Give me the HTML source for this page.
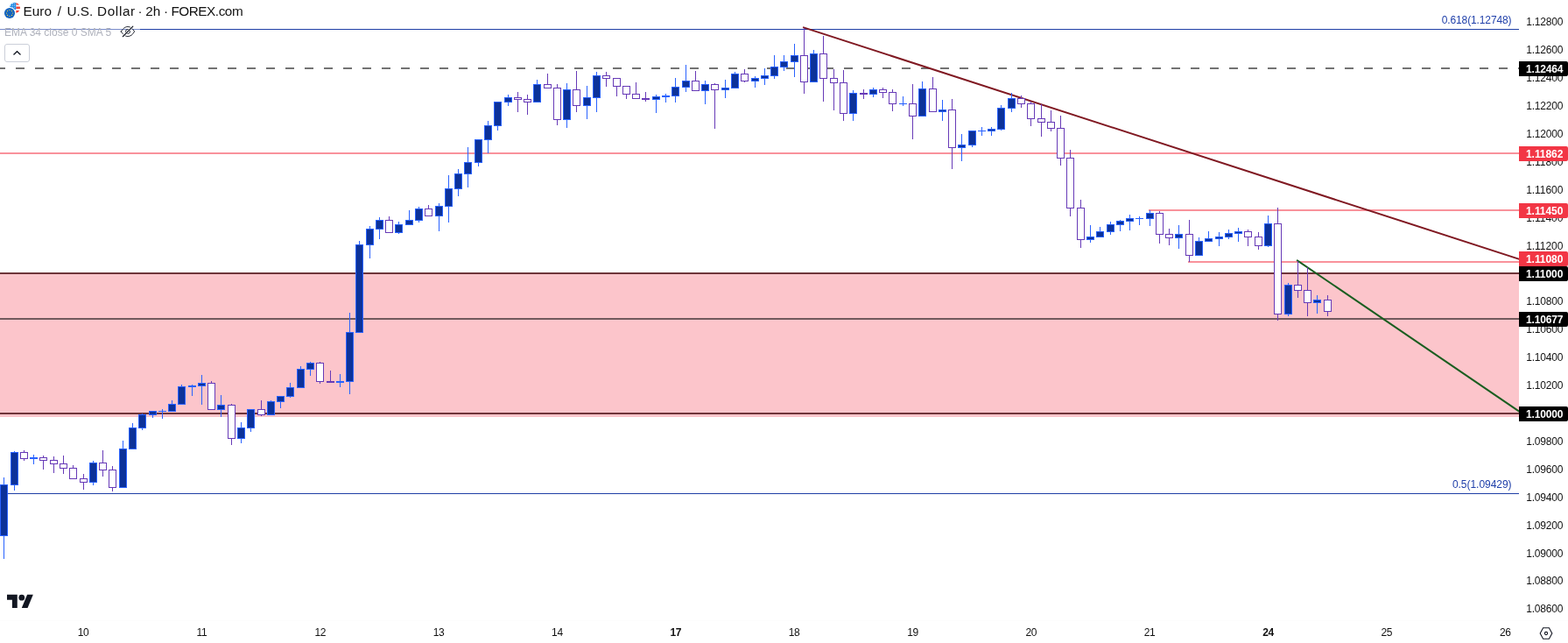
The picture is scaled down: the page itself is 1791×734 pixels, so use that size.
<!DOCTYPE html>
<html lang="en"><head><meta charset="utf-8">
<title>Euro / U.S. Dollar · 2h · FOREX.com</title>
<style>
html,body{margin:0;padding:0;background:#fff;}
body{width:1791px;height:734px;overflow:hidden;position:relative;font-family:"Liberation Sans", Arial, sans-serif;color:#111111;}
svg{position:absolute;left:0;top:0;display:block;}
svg text{font-family:"Liberation Sans", Arial, sans-serif;}
.ax{font-size:12px;fill:#111111;}
.lb{font-size:12px;fill:#fff;font-weight:bold;}
.fib{font-size:12px;fill:#2141aa;}
.tm{font-size:12px;fill:#111111;text-anchor:middle;}
.ttl{font-size:15.3px;fill:#111111;}
.leg{font-size:12px;fill:#afb2bc;}
</style></head><body>
<svg width="1791" height="734" viewBox="0 0 1791 734">
<g shape-rendering="crispEdges">
<rect x="0" y="313" width="1735" height="163" fill="#fcc5cb"/>
<rect x="0" y="33" width="1735" height="1" fill="#1f3fa6"/>
<rect x="0" y="563" width="1735" height="1" fill="#1f3fa6"/>
<line x1="-4" y1="78" x2="1735" y2="78" stroke="#737373" stroke-width="2" stroke-dasharray="10 12"/>
<rect x="0" y="174" width="1735" height="2" fill="#f9929b"/>
<rect x="1312" y="239" width="423" height="2" fill="#f9929b"/>
<rect x="1357" y="298" width="378" height="2" fill="#f9929b"/>
<rect x="0" y="311" width="1735" height="2" fill="#6e353a"/>
<rect x="0" y="471" width="1735" height="2" fill="#6e353a"/>
<rect x="0" y="363" width="1735" height="2" fill="#71595c"/>
</g>
<g stroke-width="2" stroke-linecap="round" fill="none">
<line x1="917.9" y1="31.4" x2="1737" y2="296.35" stroke="#801922"/>
<line x1="1481.8" y1="297.3" x2="1737" y2="470.95" stroke="#1b5e20"/>
</g>
<g shape-rendering="crispEdges">
<rect x="4" y="545" width="1" height="93" fill="#2962ff"/>
<rect x="0" y="553" width="9" height="59" fill="#2962ff"/>
<rect x="1" y="554" width="7" height="57" fill="#0c3299"/>
<rect x="16" y="515" width="1" height="45" fill="#2962ff"/>
<rect x="12" y="516" width="9" height="38" fill="#2962ff"/>
<rect x="13" y="517" width="7" height="36" fill="#0c3299"/>
<rect x="27" y="514" width="1" height="12" fill="#673ab7"/>
<rect x="23" y="516" width="9" height="8" fill="#673ab7"/>
<rect x="24" y="517" width="7" height="6" fill="#ffffff"/>
<rect x="38" y="519" width="1" height="11" fill="#2962ff"/>
<rect x="34" y="522" width="9" height="2" fill="#2962ff"/>
<rect x="49" y="520" width="1" height="16" fill="#673ab7"/>
<rect x="45" y="522" width="9" height="4" fill="#673ab7"/>
<rect x="46" y="523" width="7" height="2" fill="#ffffff"/>
<rect x="61" y="521" width="1" height="19" fill="#673ab7"/>
<rect x="57" y="525" width="9" height="5" fill="#673ab7"/>
<rect x="58" y="526" width="7" height="3" fill="#ffffff"/>
<rect x="72" y="520" width="1" height="21" fill="#673ab7"/>
<rect x="68" y="529" width="9" height="6" fill="#673ab7"/>
<rect x="69" y="530" width="7" height="4" fill="#ffffff"/>
<rect x="83" y="531" width="1" height="16" fill="#673ab7"/>
<rect x="79" y="534" width="9" height="13" fill="#673ab7"/>
<rect x="80" y="535" width="7" height="11" fill="#ffffff"/>
<rect x="95" y="541" width="1" height="18" fill="#673ab7"/>
<rect x="91" y="546" width="9" height="5" fill="#673ab7"/>
<rect x="92" y="547" width="7" height="3" fill="#ffffff"/>
<rect x="106" y="526" width="1" height="28" fill="#2962ff"/>
<rect x="102" y="528" width="9" height="23" fill="#2962ff"/>
<rect x="103" y="529" width="7" height="21" fill="#0c3299"/>
<rect x="117" y="514" width="1" height="30" fill="#673ab7"/>
<rect x="113" y="528" width="9" height="9" fill="#673ab7"/>
<rect x="114" y="529" width="7" height="7" fill="#ffffff"/>
<rect x="128" y="532" width="1" height="29" fill="#673ab7"/>
<rect x="124" y="536" width="9" height="21" fill="#673ab7"/>
<rect x="125" y="537" width="7" height="19" fill="#ffffff"/>
<rect x="140" y="503" width="1" height="54" fill="#2962ff"/>
<rect x="136" y="512" width="9" height="45" fill="#2962ff"/>
<rect x="137" y="513" width="7" height="43" fill="#0c3299"/>
<rect x="151" y="483" width="1" height="30" fill="#2962ff"/>
<rect x="147" y="488" width="9" height="25" fill="#2962ff"/>
<rect x="148" y="489" width="7" height="23" fill="#0c3299"/>
<rect x="162" y="472" width="1" height="19" fill="#2962ff"/>
<rect x="158" y="473" width="9" height="16" fill="#2962ff"/>
<rect x="159" y="474" width="7" height="14" fill="#0c3299"/>
<rect x="174" y="469" width="1" height="8" fill="#2962ff"/>
<rect x="170" y="469" width="9" height="5" fill="#2962ff"/>
<rect x="171" y="470" width="7" height="3" fill="#0c3299"/>
<rect x="185" y="467" width="1" height="11" fill="#2962ff"/>
<rect x="181" y="469" width="9" height="1" fill="#2962ff"/>
<rect x="196" y="457" width="1" height="13" fill="#2962ff"/>
<rect x="192" y="461" width="9" height="9" fill="#2962ff"/>
<rect x="193" y="462" width="7" height="7" fill="#0c3299"/>
<rect x="207" y="439" width="1" height="23" fill="#2962ff"/>
<rect x="203" y="441" width="9" height="21" fill="#2962ff"/>
<rect x="204" y="442" width="7" height="19" fill="#0c3299"/>
<rect x="219" y="439" width="1" height="13" fill="#2962ff"/>
<rect x="215" y="440" width="9" height="2" fill="#2962ff"/>
<rect x="230" y="428" width="1" height="34" fill="#2962ff"/>
<rect x="226" y="437" width="9" height="4" fill="#2962ff"/>
<rect x="227" y="438" width="7" height="2" fill="#0c3299"/>
<rect x="241" y="435" width="1" height="33" fill="#673ab7"/>
<rect x="237" y="437" width="9" height="31" fill="#673ab7"/>
<rect x="238" y="438" width="7" height="29" fill="#ffffff"/>
<rect x="252" y="451" width="1" height="25" fill="#2962ff"/>
<rect x="248" y="462" width="9" height="6" fill="#2962ff"/>
<rect x="249" y="463" width="7" height="4" fill="#0c3299"/>
<rect x="264" y="461" width="1" height="47" fill="#673ab7"/>
<rect x="260" y="462" width="9" height="39" fill="#673ab7"/>
<rect x="261" y="463" width="7" height="37" fill="#ffffff"/>
<rect x="275" y="482" width="1" height="24" fill="#2962ff"/>
<rect x="271" y="488" width="9" height="13" fill="#2962ff"/>
<rect x="272" y="489" width="7" height="11" fill="#0c3299"/>
<rect x="286" y="467" width="1" height="26" fill="#2962ff"/>
<rect x="282" y="467" width="9" height="22" fill="#2962ff"/>
<rect x="283" y="468" width="7" height="20" fill="#0c3299"/>
<rect x="298" y="457" width="1" height="18" fill="#673ab7"/>
<rect x="294" y="467" width="9" height="7" fill="#673ab7"/>
<rect x="295" y="468" width="7" height="5" fill="#ffffff"/>
<rect x="309" y="457" width="1" height="17" fill="#2962ff"/>
<rect x="305" y="458" width="9" height="16" fill="#2962ff"/>
<rect x="306" y="459" width="7" height="14" fill="#0c3299"/>
<rect x="320" y="452" width="1" height="14" fill="#2962ff"/>
<rect x="316" y="452" width="9" height="7" fill="#2962ff"/>
<rect x="317" y="453" width="7" height="5" fill="#0c3299"/>
<rect x="331" y="437" width="1" height="17" fill="#2962ff"/>
<rect x="327" y="442" width="9" height="11" fill="#2962ff"/>
<rect x="328" y="443" width="7" height="9" fill="#0c3299"/>
<rect x="343" y="418" width="1" height="25" fill="#2962ff"/>
<rect x="339" y="421" width="9" height="22" fill="#2962ff"/>
<rect x="340" y="422" width="7" height="20" fill="#0c3299"/>
<rect x="354" y="413" width="1" height="16" fill="#2962ff"/>
<rect x="350" y="414" width="9" height="8" fill="#2962ff"/>
<rect x="351" y="415" width="7" height="6" fill="#0c3299"/>
<rect x="365" y="413" width="1" height="25" fill="#673ab7"/>
<rect x="361" y="414" width="9" height="22" fill="#673ab7"/>
<rect x="362" y="415" width="7" height="20" fill="#ffffff"/>
<rect x="377" y="423" width="1" height="14" fill="#673ab7"/>
<rect x="373" y="435" width="9" height="2" fill="#673ab7"/>
<rect x="388" y="427" width="1" height="15" fill="#2962ff"/>
<rect x="384" y="435" width="9" height="2" fill="#2962ff"/>
<rect x="399" y="357" width="1" height="93" fill="#2962ff"/>
<rect x="395" y="379" width="9" height="57" fill="#2962ff"/>
<rect x="396" y="380" width="7" height="55" fill="#0c3299"/>
<rect x="410" y="275" width="1" height="105" fill="#2962ff"/>
<rect x="406" y="279" width="9" height="101" fill="#2962ff"/>
<rect x="407" y="280" width="7" height="99" fill="#0c3299"/>
<rect x="422" y="258" width="1" height="37" fill="#2962ff"/>
<rect x="418" y="261" width="9" height="19" fill="#2962ff"/>
<rect x="419" y="262" width="7" height="17" fill="#0c3299"/>
<rect x="433" y="248" width="1" height="25" fill="#2962ff"/>
<rect x="429" y="251" width="9" height="11" fill="#2962ff"/>
<rect x="430" y="252" width="7" height="9" fill="#0c3299"/>
<rect x="444" y="247" width="1" height="19" fill="#673ab7"/>
<rect x="440" y="251" width="9" height="15" fill="#673ab7"/>
<rect x="441" y="252" width="7" height="13" fill="#ffffff"/>
<rect x="455" y="253" width="1" height="14" fill="#2962ff"/>
<rect x="451" y="256" width="9" height="10" fill="#2962ff"/>
<rect x="452" y="257" width="7" height="8" fill="#0c3299"/>
<rect x="467" y="240" width="1" height="17" fill="#2962ff"/>
<rect x="463" y="251" width="9" height="6" fill="#2962ff"/>
<rect x="464" y="252" width="7" height="4" fill="#0c3299"/>
<rect x="478" y="236" width="1" height="18" fill="#2962ff"/>
<rect x="474" y="238" width="9" height="14" fill="#2962ff"/>
<rect x="475" y="239" width="7" height="12" fill="#0c3299"/>
<rect x="489" y="234" width="1" height="13" fill="#673ab7"/>
<rect x="485" y="238" width="9" height="9" fill="#673ab7"/>
<rect x="486" y="239" width="7" height="7" fill="#ffffff"/>
<rect x="501" y="232" width="1" height="32" fill="#2962ff"/>
<rect x="497" y="235" width="9" height="12" fill="#2962ff"/>
<rect x="498" y="236" width="7" height="10" fill="#0c3299"/>
<rect x="512" y="200" width="1" height="54" fill="#2962ff"/>
<rect x="508" y="215" width="9" height="21" fill="#2962ff"/>
<rect x="509" y="216" width="7" height="19" fill="#0c3299"/>
<rect x="523" y="193" width="1" height="31" fill="#2962ff"/>
<rect x="519" y="198" width="9" height="18" fill="#2962ff"/>
<rect x="520" y="199" width="7" height="16" fill="#0c3299"/>
<rect x="534" y="168" width="1" height="46" fill="#2962ff"/>
<rect x="530" y="185" width="9" height="14" fill="#2962ff"/>
<rect x="531" y="186" width="7" height="12" fill="#0c3299"/>
<rect x="546" y="159" width="1" height="31" fill="#2962ff"/>
<rect x="542" y="159" width="9" height="27" fill="#2962ff"/>
<rect x="543" y="160" width="7" height="25" fill="#0c3299"/>
<rect x="557" y="138" width="1" height="37" fill="#2962ff"/>
<rect x="553" y="143" width="9" height="17" fill="#2962ff"/>
<rect x="554" y="144" width="7" height="15" fill="#0c3299"/>
<rect x="568" y="116" width="1" height="33" fill="#2962ff"/>
<rect x="564" y="116" width="9" height="28" fill="#2962ff"/>
<rect x="565" y="117" width="7" height="26" fill="#0c3299"/>
<rect x="580" y="108" width="1" height="13" fill="#2962ff"/>
<rect x="576" y="111" width="9" height="6" fill="#2962ff"/>
<rect x="577" y="112" width="7" height="4" fill="#0c3299"/>
<rect x="591" y="105" width="1" height="23" fill="#673ab7"/>
<rect x="587" y="111" width="9" height="3" fill="#673ab7"/>
<rect x="588" y="112" width="7" height="1" fill="#ffffff"/>
<rect x="602" y="108" width="1" height="23" fill="#673ab7"/>
<rect x="598" y="113" width="9" height="4" fill="#673ab7"/>
<rect x="599" y="114" width="7" height="2" fill="#ffffff"/>
<rect x="613" y="91" width="1" height="26" fill="#2962ff"/>
<rect x="609" y="96" width="9" height="21" fill="#2962ff"/>
<rect x="610" y="97" width="7" height="19" fill="#0c3299"/>
<rect x="625" y="84" width="1" height="17" fill="#673ab7"/>
<rect x="621" y="96" width="9" height="5" fill="#673ab7"/>
<rect x="622" y="97" width="7" height="3" fill="#ffffff"/>
<rect x="636" y="96" width="1" height="47" fill="#673ab7"/>
<rect x="632" y="100" width="9" height="37" fill="#673ab7"/>
<rect x="633" y="101" width="7" height="35" fill="#ffffff"/>
<rect x="647" y="95" width="1" height="51" fill="#2962ff"/>
<rect x="643" y="102" width="9" height="35" fill="#2962ff"/>
<rect x="644" y="103" width="7" height="33" fill="#0c3299"/>
<rect x="658" y="81" width="1" height="47" fill="#673ab7"/>
<rect x="654" y="102" width="9" height="19" fill="#673ab7"/>
<rect x="655" y="103" width="7" height="17" fill="#ffffff"/>
<rect x="670" y="98" width="1" height="38" fill="#2962ff"/>
<rect x="666" y="111" width="9" height="10" fill="#2962ff"/>
<rect x="667" y="112" width="7" height="8" fill="#0c3299"/>
<rect x="681" y="82" width="1" height="46" fill="#2962ff"/>
<rect x="677" y="86" width="9" height="26" fill="#2962ff"/>
<rect x="678" y="87" width="7" height="24" fill="#0c3299"/>
<rect x="692" y="82" width="1" height="17" fill="#673ab7"/>
<rect x="688" y="86" width="9" height="4" fill="#673ab7"/>
<rect x="689" y="87" width="7" height="2" fill="#ffffff"/>
<rect x="704" y="89" width="1" height="21" fill="#673ab7"/>
<rect x="700" y="89" width="9" height="10" fill="#673ab7"/>
<rect x="701" y="90" width="7" height="8" fill="#ffffff"/>
<rect x="715" y="98" width="1" height="15" fill="#673ab7"/>
<rect x="711" y="98" width="9" height="10" fill="#673ab7"/>
<rect x="712" y="99" width="7" height="8" fill="#ffffff"/>
<rect x="726" y="94" width="1" height="19" fill="#673ab7"/>
<rect x="722" y="107" width="9" height="6" fill="#673ab7"/>
<rect x="723" y="108" width="7" height="4" fill="#ffffff"/>
<rect x="737" y="105" width="1" height="11" fill="#673ab7"/>
<rect x="733" y="112" width="9" height="2" fill="#673ab7"/>
<rect x="749" y="108" width="1" height="21" fill="#2962ff"/>
<rect x="745" y="110" width="9" height="4" fill="#2962ff"/>
<rect x="746" y="111" width="7" height="2" fill="#0c3299"/>
<rect x="760" y="107" width="1" height="10" fill="#2962ff"/>
<rect x="756" y="109" width="9" height="2" fill="#2962ff"/>
<rect x="771" y="89" width="1" height="28" fill="#2962ff"/>
<rect x="767" y="99" width="9" height="11" fill="#2962ff"/>
<rect x="768" y="100" width="7" height="9" fill="#0c3299"/>
<rect x="783" y="74" width="1" height="31" fill="#2962ff"/>
<rect x="779" y="92" width="9" height="8" fill="#2962ff"/>
<rect x="780" y="93" width="7" height="6" fill="#0c3299"/>
<rect x="794" y="81" width="1" height="23" fill="#673ab7"/>
<rect x="790" y="92" width="9" height="12" fill="#673ab7"/>
<rect x="791" y="93" width="7" height="10" fill="#ffffff"/>
<rect x="805" y="92" width="1" height="27" fill="#2962ff"/>
<rect x="801" y="96" width="9" height="8" fill="#2962ff"/>
<rect x="802" y="97" width="7" height="6" fill="#0c3299"/>
<rect x="816" y="95" width="1" height="52" fill="#673ab7"/>
<rect x="812" y="96" width="9" height="7" fill="#673ab7"/>
<rect x="813" y="97" width="7" height="5" fill="#ffffff"/>
<rect x="828" y="91" width="1" height="21" fill="#2962ff"/>
<rect x="824" y="100" width="9" height="3" fill="#2962ff"/>
<rect x="825" y="101" width="7" height="1" fill="#0c3299"/>
<rect x="839" y="82" width="1" height="19" fill="#2962ff"/>
<rect x="835" y="84" width="9" height="17" fill="#2962ff"/>
<rect x="836" y="85" width="7" height="15" fill="#0c3299"/>
<rect x="850" y="79" width="1" height="15" fill="#673ab7"/>
<rect x="846" y="84" width="9" height="9" fill="#673ab7"/>
<rect x="847" y="85" width="7" height="7" fill="#ffffff"/>
<rect x="862" y="87" width="1" height="13" fill="#2962ff"/>
<rect x="858" y="89" width="9" height="4" fill="#2962ff"/>
<rect x="859" y="90" width="7" height="2" fill="#0c3299"/>
<rect x="873" y="78" width="1" height="19" fill="#2962ff"/>
<rect x="869" y="86" width="9" height="4" fill="#2962ff"/>
<rect x="870" y="87" width="7" height="2" fill="#0c3299"/>
<rect x="884" y="63" width="1" height="27" fill="#2962ff"/>
<rect x="880" y="76" width="9" height="11" fill="#2962ff"/>
<rect x="881" y="77" width="7" height="9" fill="#0c3299"/>
<rect x="895" y="63" width="1" height="18" fill="#2962ff"/>
<rect x="891" y="70" width="9" height="7" fill="#2962ff"/>
<rect x="892" y="71" width="7" height="5" fill="#0c3299"/>
<rect x="907" y="50" width="1" height="38" fill="#2962ff"/>
<rect x="903" y="63" width="9" height="8" fill="#2962ff"/>
<rect x="904" y="64" width="7" height="6" fill="#0c3299"/>
<rect x="918" y="32" width="1" height="75" fill="#673ab7"/>
<rect x="914" y="63" width="9" height="31" fill="#673ab7"/>
<rect x="915" y="64" width="7" height="29" fill="#ffffff"/>
<rect x="929" y="57" width="1" height="37" fill="#2962ff"/>
<rect x="925" y="61" width="9" height="33" fill="#2962ff"/>
<rect x="926" y="62" width="7" height="31" fill="#0c3299"/>
<rect x="940" y="41" width="1" height="75" fill="#673ab7"/>
<rect x="936" y="61" width="9" height="29" fill="#673ab7"/>
<rect x="937" y="62" width="7" height="27" fill="#ffffff"/>
<rect x="952" y="79" width="1" height="47" fill="#673ab7"/>
<rect x="948" y="89" width="9" height="6" fill="#673ab7"/>
<rect x="949" y="90" width="7" height="4" fill="#ffffff"/>
<rect x="963" y="80" width="1" height="58" fill="#673ab7"/>
<rect x="959" y="94" width="9" height="36" fill="#673ab7"/>
<rect x="960" y="95" width="7" height="34" fill="#ffffff"/>
<rect x="974" y="103" width="1" height="35" fill="#2962ff"/>
<rect x="970" y="106" width="9" height="24" fill="#2962ff"/>
<rect x="971" y="107" width="7" height="22" fill="#0c3299"/>
<rect x="986" y="102" width="1" height="11" fill="#673ab7"/>
<rect x="982" y="106" width="9" height="2" fill="#673ab7"/>
<rect x="997" y="100" width="1" height="11" fill="#2962ff"/>
<rect x="993" y="102" width="9" height="6" fill="#2962ff"/>
<rect x="994" y="103" width="7" height="4" fill="#0c3299"/>
<rect x="1008" y="100" width="1" height="12" fill="#673ab7"/>
<rect x="1004" y="102" width="9" height="4" fill="#673ab7"/>
<rect x="1005" y="103" width="7" height="2" fill="#ffffff"/>
<rect x="1019" y="102" width="1" height="25" fill="#673ab7"/>
<rect x="1015" y="105" width="9" height="14" fill="#673ab7"/>
<rect x="1016" y="106" width="7" height="12" fill="#ffffff"/>
<rect x="1031" y="110" width="1" height="11" fill="#2962ff"/>
<rect x="1027" y="118" width="9" height="1" fill="#2962ff"/>
<rect x="1042" y="96" width="1" height="63" fill="#673ab7"/>
<rect x="1038" y="118" width="9" height="15" fill="#673ab7"/>
<rect x="1039" y="119" width="7" height="13" fill="#ffffff"/>
<rect x="1053" y="93" width="1" height="40" fill="#2962ff"/>
<rect x="1049" y="101" width="9" height="32" fill="#2962ff"/>
<rect x="1050" y="102" width="7" height="30" fill="#0c3299"/>
<rect x="1065" y="88" width="1" height="40" fill="#673ab7"/>
<rect x="1061" y="101" width="9" height="27" fill="#673ab7"/>
<rect x="1062" y="102" width="7" height="25" fill="#ffffff"/>
<rect x="1076" y="114" width="1" height="24" fill="#2962ff"/>
<rect x="1072" y="125" width="9" height="3" fill="#2962ff"/>
<rect x="1073" y="126" width="7" height="1" fill="#0c3299"/>
<rect x="1087" y="113" width="1" height="80" fill="#673ab7"/>
<rect x="1083" y="125" width="9" height="44" fill="#673ab7"/>
<rect x="1084" y="126" width="7" height="42" fill="#ffffff"/>
<rect x="1098" y="153" width="1" height="31" fill="#2962ff"/>
<rect x="1094" y="165" width="9" height="4" fill="#2962ff"/>
<rect x="1095" y="166" width="7" height="2" fill="#0c3299"/>
<rect x="1110" y="149" width="1" height="19" fill="#2962ff"/>
<rect x="1106" y="149" width="9" height="17" fill="#2962ff"/>
<rect x="1107" y="150" width="7" height="15" fill="#0c3299"/>
<rect x="1121" y="145" width="1" height="10" fill="#2962ff"/>
<rect x="1117" y="149" width="9" height="1" fill="#2962ff"/>
<rect x="1132" y="145" width="1" height="10" fill="#2962ff"/>
<rect x="1128" y="147" width="9" height="3" fill="#2962ff"/>
<rect x="1129" y="148" width="7" height="1" fill="#0c3299"/>
<rect x="1143" y="120" width="1" height="29" fill="#2962ff"/>
<rect x="1139" y="123" width="9" height="25" fill="#2962ff"/>
<rect x="1140" y="124" width="7" height="23" fill="#0c3299"/>
<rect x="1155" y="106" width="1" height="22" fill="#2962ff"/>
<rect x="1151" y="112" width="9" height="12" fill="#2962ff"/>
<rect x="1152" y="113" width="7" height="10" fill="#0c3299"/>
<rect x="1166" y="109" width="1" height="14" fill="#673ab7"/>
<rect x="1162" y="112" width="9" height="7" fill="#673ab7"/>
<rect x="1163" y="113" width="7" height="5" fill="#ffffff"/>
<rect x="1177" y="116" width="1" height="28" fill="#673ab7"/>
<rect x="1173" y="118" width="9" height="18" fill="#673ab7"/>
<rect x="1174" y="119" width="7" height="16" fill="#ffffff"/>
<rect x="1189" y="119" width="1" height="37" fill="#673ab7"/>
<rect x="1185" y="135" width="9" height="5" fill="#673ab7"/>
<rect x="1186" y="136" width="7" height="3" fill="#ffffff"/>
<rect x="1200" y="126" width="1" height="24" fill="#673ab7"/>
<rect x="1196" y="139" width="9" height="8" fill="#673ab7"/>
<rect x="1197" y="140" width="7" height="6" fill="#ffffff"/>
<rect x="1211" y="132" width="1" height="57" fill="#673ab7"/>
<rect x="1207" y="146" width="9" height="35" fill="#673ab7"/>
<rect x="1208" y="147" width="7" height="33" fill="#ffffff"/>
<rect x="1222" y="171" width="1" height="76" fill="#673ab7"/>
<rect x="1218" y="180" width="9" height="58" fill="#673ab7"/>
<rect x="1219" y="181" width="7" height="56" fill="#ffffff"/>
<rect x="1234" y="228" width="1" height="55" fill="#673ab7"/>
<rect x="1230" y="237" width="9" height="37" fill="#673ab7"/>
<rect x="1231" y="238" width="7" height="35" fill="#ffffff"/>
<rect x="1245" y="257" width="1" height="20" fill="#2962ff"/>
<rect x="1241" y="270" width="9" height="4" fill="#2962ff"/>
<rect x="1242" y="271" width="7" height="2" fill="#0c3299"/>
<rect x="1256" y="259" width="1" height="12" fill="#2962ff"/>
<rect x="1252" y="264" width="9" height="7" fill="#2962ff"/>
<rect x="1253" y="265" width="7" height="5" fill="#0c3299"/>
<rect x="1268" y="253" width="1" height="15" fill="#2962ff"/>
<rect x="1264" y="256" width="9" height="9" fill="#2962ff"/>
<rect x="1265" y="257" width="7" height="7" fill="#0c3299"/>
<rect x="1279" y="251" width="1" height="13" fill="#2962ff"/>
<rect x="1275" y="252" width="9" height="5" fill="#2962ff"/>
<rect x="1276" y="253" width="7" height="3" fill="#0c3299"/>
<rect x="1290" y="245" width="1" height="18" fill="#2962ff"/>
<rect x="1286" y="249" width="9" height="4" fill="#2962ff"/>
<rect x="1287" y="250" width="7" height="2" fill="#0c3299"/>
<rect x="1301" y="247" width="1" height="10" fill="#2962ff"/>
<rect x="1297" y="249" width="9" height="1" fill="#2962ff"/>
<rect x="1313" y="240" width="1" height="18" fill="#2962ff"/>
<rect x="1309" y="243" width="9" height="7" fill="#2962ff"/>
<rect x="1310" y="244" width="7" height="5" fill="#0c3299"/>
<rect x="1324" y="241" width="1" height="37" fill="#673ab7"/>
<rect x="1320" y="243" width="9" height="25" fill="#673ab7"/>
<rect x="1321" y="244" width="7" height="23" fill="#ffffff"/>
<rect x="1335" y="261" width="1" height="19" fill="#673ab7"/>
<rect x="1331" y="267" width="9" height="5" fill="#673ab7"/>
<rect x="1332" y="268" width="7" height="3" fill="#ffffff"/>
<rect x="1346" y="257" width="1" height="27" fill="#2962ff"/>
<rect x="1342" y="267" width="9" height="5" fill="#2962ff"/>
<rect x="1343" y="268" width="7" height="3" fill="#0c3299"/>
<rect x="1358" y="251" width="1" height="48" fill="#673ab7"/>
<rect x="1354" y="267" width="9" height="25" fill="#673ab7"/>
<rect x="1355" y="268" width="7" height="23" fill="#ffffff"/>
<rect x="1369" y="271" width="1" height="21" fill="#2962ff"/>
<rect x="1365" y="275" width="9" height="17" fill="#2962ff"/>
<rect x="1366" y="276" width="7" height="15" fill="#0c3299"/>
<rect x="1380" y="264" width="1" height="12" fill="#2962ff"/>
<rect x="1376" y="272" width="9" height="4" fill="#2962ff"/>
<rect x="1377" y="273" width="7" height="2" fill="#0c3299"/>
<rect x="1392" y="265" width="1" height="16" fill="#2962ff"/>
<rect x="1388" y="270" width="9" height="3" fill="#2962ff"/>
<rect x="1389" y="271" width="7" height="1" fill="#0c3299"/>
<rect x="1403" y="262" width="1" height="11" fill="#2962ff"/>
<rect x="1399" y="266" width="9" height="5" fill="#2962ff"/>
<rect x="1400" y="267" width="7" height="3" fill="#0c3299"/>
<rect x="1414" y="260" width="1" height="16" fill="#2962ff"/>
<rect x="1410" y="264" width="9" height="3" fill="#2962ff"/>
<rect x="1411" y="265" width="7" height="1" fill="#0c3299"/>
<rect x="1425" y="262" width="1" height="19" fill="#673ab7"/>
<rect x="1421" y="264" width="9" height="7" fill="#673ab7"/>
<rect x="1422" y="265" width="7" height="5" fill="#ffffff"/>
<rect x="1437" y="265" width="1" height="20" fill="#673ab7"/>
<rect x="1433" y="270" width="9" height="11" fill="#673ab7"/>
<rect x="1434" y="271" width="7" height="9" fill="#ffffff"/>
<rect x="1448" y="246" width="1" height="36" fill="#2962ff"/>
<rect x="1444" y="255" width="9" height="26" fill="#2962ff"/>
<rect x="1445" y="256" width="7" height="24" fill="#0c3299"/>
<rect x="1459" y="237" width="1" height="129" fill="#673ab7"/>
<rect x="1455" y="255" width="9" height="104" fill="#673ab7"/>
<rect x="1456" y="256" width="7" height="102" fill="#ffffff"/>
<rect x="1471" y="323" width="1" height="38" fill="#2962ff"/>
<rect x="1467" y="325" width="9" height="34" fill="#2962ff"/>
<rect x="1468" y="326" width="7" height="32" fill="#0c3299"/>
<rect x="1482" y="298" width="1" height="42" fill="#673ab7"/>
<rect x="1478" y="325" width="9" height="7" fill="#673ab7"/>
<rect x="1479" y="326" width="7" height="5" fill="#ffffff"/>
<rect x="1493" y="305" width="1" height="56" fill="#673ab7"/>
<rect x="1489" y="331" width="9" height="15" fill="#673ab7"/>
<rect x="1490" y="332" width="7" height="13" fill="#ffffff"/>
<rect x="1504" y="337" width="1" height="21" fill="#2962ff"/>
<rect x="1500" y="342" width="9" height="4" fill="#2962ff"/>
<rect x="1501" y="343" width="7" height="2" fill="#0c3299"/>
<rect x="1516" y="337" width="1" height="24" fill="#673ab7"/>
<rect x="1512" y="342" width="9" height="14" fill="#673ab7"/>
<rect x="1513" y="343" width="7" height="12" fill="#ffffff"/>
</g>
<rect x="0" y="26" width="160" height="18" fill="#fff" fill-opacity="0.4"/>
<rect x="1735" y="0" width="56" height="734" fill="#fff"/>
<rect x="0" y="708" width="1791" height="1" fill="#fdfdfd" shape-rendering="crispEdges"/>
<text class="ax" x="1743.2" y="29" textLength="42.2">1.12800</text>
<text class="ax" x="1743.2" y="61" textLength="42.2">1.12600</text>
<text class="ax" x="1743.2" y="93" textLength="42.2">1.12400</text>
<text class="ax" x="1743.2" y="125" textLength="42.2">1.12200</text>
<text class="ax" x="1743.2" y="157" textLength="42.2">1.12000</text>
<text class="ax" x="1743.2" y="189" textLength="42.2">1.11800</text>
<text class="ax" x="1743.2" y="221" textLength="42.2">1.11600</text>
<text class="ax" x="1743.2" y="253" textLength="42.2">1.11400</text>
<text class="ax" x="1743.2" y="285" textLength="42.2">1.11200</text>
<text class="ax" x="1743.2" y="316" textLength="42.2">1.11000</text>
<text class="ax" x="1743.2" y="348" textLength="42.2">1.10800</text>
<text class="ax" x="1743.2" y="380" textLength="42.2">1.10600</text>
<text class="ax" x="1743.2" y="412" textLength="42.2">1.10400</text>
<text class="ax" x="1743.2" y="444" textLength="42.2">1.10200</text>
<text class="ax" x="1743.2" y="476" textLength="42.2">1.10000</text>
<text class="ax" x="1743.2" y="508" textLength="42.2">1.09800</text>
<text class="ax" x="1743.2" y="540" textLength="42.2">1.09600</text>
<text class="ax" x="1743.2" y="572" textLength="42.2">1.09400</text>
<text class="ax" x="1743.2" y="604" textLength="42.2">1.09200</text>
<text class="ax" x="1743.2" y="636" textLength="42.2">1.09000</text>
<text class="ax" x="1743.2" y="667" textLength="42.2">1.08800</text>
<text class="ax" x="1743.2" y="699" textLength="42.2">1.08600</text>
<path d="M1735 70 h54 a2 2 0 0 1 2 2 v13 a2 2 0 0 1 -2 2 h-54 z" fill="#000000"/>
<text class="lb" x="1743" y="83.00" textLength="42.4">1.12464</text>
<path d="M1735 167 h54 a2 2 0 0 1 2 2 v13 a2 2 0 0 1 -2 2 h-54 z" fill="#f23645"/>
<text class="lb" x="1743" y="180.00" textLength="42.4">1.11862</text>
<path d="M1735 232 h54 a2 2 0 0 1 2 2 v13 a2 2 0 0 1 -2 2 h-54 z" fill="#f23645"/>
<text class="lb" x="1743" y="245.00" textLength="42.4">1.11450</text>
<path d="M1735 287 h54 a2 2 0 0 1 2 2 v13 a2 2 0 0 1 -2 2 h-54 z" fill="#f23645"/>
<text class="lb" x="1743" y="300.00" textLength="42.4">1.11080</text>
<path d="M1735 304 h54 a2 2 0 0 1 2 2 v13 a2 2 0 0 1 -2 2 h-54 z" fill="#000000"/>
<text class="lb" x="1743" y="317.00" textLength="42.4">1.11000</text>
<path d="M1735 356 h54 a2 2 0 0 1 2 2 v13 a2 2 0 0 1 -2 2 h-54 z" fill="#000000"/>
<text class="lb" x="1743" y="369.00" textLength="42.4">1.10677</text>
<path d="M1735 464 h54 a2 2 0 0 1 2 2 v13 a2 2 0 0 1 -2 2 h-54 z" fill="#000000"/>
<text class="lb" x="1743" y="477.00" textLength="42.4">1.10000</text>
<text class="fib" x="1726.6" y="27" text-anchor="end" textLength="79.9">0.618(1.12748)</text>
<text class="fib" x="1726.6" y="557" text-anchor="end" textLength="67.7">0.5(1.09429)</text>
<text class="tm" x="95.1" y="726" letter-spacing="-0.4">10</text>
<text class="tm" x="230.4" y="726" letter-spacing="-0.4">11</text>
<text class="tm" x="365.8" y="726" letter-spacing="-0.4">12</text>
<text class="tm" x="501.1" y="726" letter-spacing="-0.4">13</text>
<text class="tm" x="636.4" y="726" letter-spacing="-0.4">14</text>
<text class="tm" x="771.8" y="726" letter-spacing="-0.4" font-weight="bold">17</text>
<text class="tm" x="907.1" y="726" letter-spacing="-0.4">18</text>
<text class="tm" x="1042.5" y="726" letter-spacing="-0.4">19</text>
<text class="tm" x="1177.8" y="726" letter-spacing="-0.4">20</text>
<text class="tm" x="1313.1" y="726" letter-spacing="-0.4">21</text>
<text class="tm" x="1448.5" y="726" letter-spacing="-0.4" font-weight="bold">24</text>
<text class="tm" x="1583.8" y="726" letter-spacing="-0.4">25</text>
<text class="tm" x="1719.2" y="726" letter-spacing="-0.4">26</text>
<g fill="none" stroke="#131722" stroke-width="1.1">
<path d="M1759.2 723 L1762.6 716.8 H1769.4 L1772.8 723 L1769.4 729.2 H1762.6 Z"/>
<circle cx="1766" cy="723" r="1.6"/>
</g>
<g fill="#131722" transform="translate(8,675.5) scale(0.84)">
<path d="M14 22H7V11H0V4h14v18z"/><circle cx="20" cy="8" r="4"/><path d="M28 22h-8l7.5-18h8L28 22z"/>
</g>
<g>
<clipPath id="us"><circle cx="17" cy="8.9" r="6"/></clipPath>
<g clip-path="url(#us)">
<rect x="10" y="2" width="14" height="14" fill="#fff"/>
<rect x="18.3" y="2.50" width="6" height="3.10" fill="#f44336"/>
<rect x="18.3" y="7.50" width="6" height="2.60" fill="#f44336"/>
<rect x="18.3" y="11.90" width="6" height="3.30" fill="#f44336"/>
<rect x="10" y="2" width="8.3" height="9" fill="#1e88e5"/>
<rect x="11.8" y="4.0" width="0.9" height="0.9" fill="#fff" fill-opacity="0.85"/>
<rect x="14.0" y="4.0" width="0.9" height="0.9" fill="#fff" fill-opacity="0.85"/>
<rect x="16.2" y="4.0" width="0.9" height="0.9" fill="#fff" fill-opacity="0.85"/>
<rect x="11.8" y="6.1" width="0.9" height="0.9" fill="#fff" fill-opacity="0.85"/>
<rect x="14.0" y="6.1" width="0.9" height="0.9" fill="#fff" fill-opacity="0.85"/>
<rect x="16.2" y="6.1" width="0.9" height="0.9" fill="#fff" fill-opacity="0.85"/>
<rect x="11.8" y="8.4" width="0.9" height="0.9" fill="#fff" fill-opacity="0.85"/>
<rect x="14.0" y="8.4" width="0.9" height="0.9" fill="#fff" fill-opacity="0.85"/>
<rect x="16.2" y="8.4" width="0.9" height="0.9" fill="#fff" fill-opacity="0.85"/>
</g>
<circle cx="11" cy="15" r="7.1" fill="#fff"/>
<circle cx="11" cy="15" r="6.05" fill="#1565c0"/>
<circle cx="14.50" cy="15.00" r="0.62" fill="#fdd835"/>
<circle cx="13.47" cy="17.47" r="0.62" fill="#fdd835"/>
<circle cx="11.00" cy="18.50" r="0.62" fill="#fdd835"/>
<circle cx="8.53" cy="17.47" r="0.62" fill="#fdd835"/>
<circle cx="7.50" cy="15.00" r="0.62" fill="#fdd835"/>
<circle cx="8.53" cy="12.53" r="0.62" fill="#fdd835"/>
<circle cx="11.00" cy="11.50" r="0.62" fill="#fdd835"/>
<circle cx="13.47" cy="12.53" r="0.62" fill="#fdd835"/>
</g>
<text class="ttl" y="18" xml:space="preserve"><tspan x="26.60" letter-spacing="0.000">Euro</tspan> <tspan x="65.80" letter-spacing="0.000">/</tspan> <tspan x="76.40" letter-spacing="0.000">U.S.</tspan> <tspan x="111.00" letter-spacing="0.650">Dollar</tspan> <tspan x="157.60" letter-spacing="0.000">·</tspan> <tspan x="166.30" letter-spacing="0.000">2h</tspan> <tspan x="187.10" letter-spacing="0.000">·</tspan> <tspan x="195.40" letter-spacing="-0.450">FOREX.com</tspan></text>
<text class="leg" x="5" y="41">EMA 34 close 0 SMA 5</text>
<g fill="none" stroke="#131722" stroke-width="0.9" stroke-linecap="round">
<path d="M138.4 36 C140.6 32.2 143 30.5 146 30.5 C149 30.5 151.4 32.2 153.6 36 C151.4 39.8 149 41.5 146 41.5 C143 41.5 140.6 39.8 138.4 36 Z"/>
<circle cx="146" cy="36" r="2.5"/>
<path d="M141 41 L151.2 30.8" stroke="#fff" stroke-width="2.6" stroke-opacity="0.85" stroke-linecap="butt"/>
<path d="M140.3 41.7 L151.8 30.1" stroke-width="1.25"/>
</g>
<rect x="5.5" y="50.5" width="28" height="20" rx="2.5" ry="2.5" fill="#fff" stroke="#cbcfd9" stroke-width="1"/>
<path d="M15.5 62.5 L19.5 58.7 L23.5 62.5" fill="none" stroke="#131722" stroke-width="1.3"/>
</svg>
</body></html>
